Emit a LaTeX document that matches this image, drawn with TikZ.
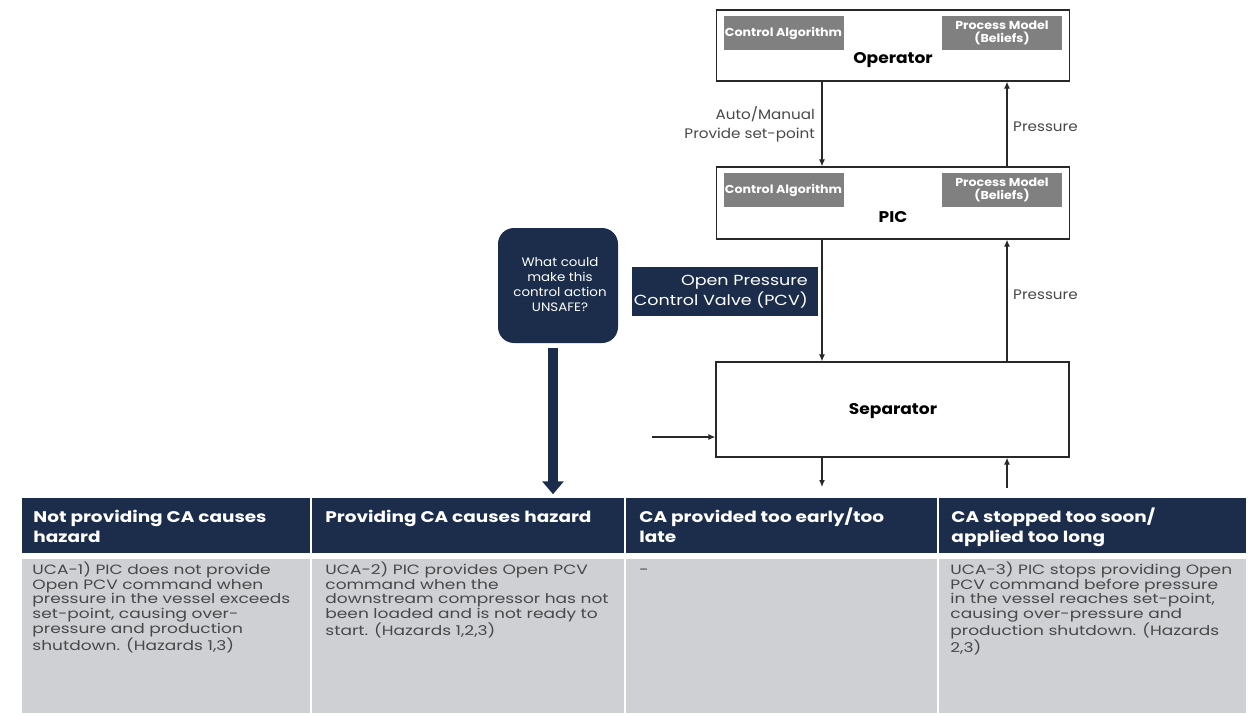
\documentclass[tikz,border=0pt]{standalone}
\usepackage{fontspec}
\setmainfont{Poppins}[FakeStretch=1.1]
\newfontfamily\widefont{Poppins}[FakeStretch=1.2]
\newfontfamily\xwidefont{Poppins}[FakeStretch=1.26]
\usetikzlibrary{arrows.meta}
\definecolor{navy}{RGB}{27,45,75}
\definecolor{cellgray}{RGB}{207,208,212}
\definecolor{boxgray}{RGB}{128,128,128}
\definecolor{txt}{RGB}{72,72,72}
\definecolor{linec}{RGB}{40,40,40}
\newcommand{\hstrut}{\rule{0pt}{16pt}}
\newcommand{\bstrut}{\rule{0pt}{14pt}}
\begin{document}
\begin{tikzpicture}[x=1pt,y=-1pt,
  block/.style={draw=linec, line width=1.3pt, fill=white, minimum width=353pt, inner sep=0pt},
  inbox/.style={fill=boxgray, text=white, font=\bfseries\fontsize{11.5}{12.5}\selectfont, align=center, inner sep=0pt, minimum width=120pt, minimum height=34pt},
  title/.style={font=\bfseries\fontsize{15.5}{18}\selectfont, text=black, inner sep=0pt},
  lbl/.style={font=\fontsize{13.8}{19}\selectfont, text=txt, inner sep=0pt},
  flow/.style={draw=linec, line width=1.2pt, -{Latex[length=7pt,width=6pt]}},
  hcell/.style={fill=navy, draw=white, line width=1.5pt, inner sep=0pt, minimum height=57pt},
  bcell/.style={fill=cellgray, draw=white, line width=1.5pt, inner sep=0pt, minimum height=156pt},
  htext/.style={text=white, font=\widefont\bfseries\fontsize{15.4}{20}\selectfont, align=left, inner sep=0pt, anchor=north west},
  btext/.style={text=txt, font=\xwidefont\fontsize{13.5}{14.7}\selectfont, align=left, inner sep=0pt, anchor=north west}
]
\useasboundingbox (0,0) rectangle (1249,714);

% ---- control structure ----
\node[block, minimum height=71pt] (op) at (893,45.5) {};
\node[inbox] (opca) at (783.5,33) {Control Algorithm};
\node[inbox] (oppm) at (1002,33) {Process Model\\(Beliefs)};
\node[title] (opt) at (893,60) {Operator};

\node[block, minimum height=72pt] (pic) at (893,203) {};
\node[inbox] (picca) at (783.5,190) {Control Algorithm};
\node[inbox] (picpm) at (1002,190) {Process Model\\(Beliefs)};
\node[title] (pict) at (893,217) {PIC};

\node[block, minimum height=95pt] (sep) at (892.5,409.5) {};
\node[title] (sept) at (893,411) {Separator};

\coordinate (cx) at (822,0);
\coordinate (fx) at (1007,0);
\coordinate (inl) at (652,437);
\coordinate (outd) at (822,487);
\coordinate (inu) at (1007,488);

\draw[flow] (op.south -| cx) -- (pic.north -| cx);
\draw[flow] (pic.north -| fx) -- (op.south -| fx);
\draw[flow] (pic.south -| cx) -- (sep.north -| cx);
\draw[flow] (sep.north -| fx) -- (pic.south -| fx);
\draw[flow] (inl) -- (inl -| sep.west);
\draw[flow] (sep.south -| outd) -- (outd);
\draw[flow] (inu) -- (sep.south -| inu);

\node[lbl, anchor=east, align=right] (cmdlbl) at (815,124) {Auto/Manual\\Provide set-point};
\node[lbl, anchor=west] (fb1) at (1013,127) {Pressure};
\node[lbl, anchor=west] (fb2) at (1013,295) {Pressure};

\node[fill=navy, minimum width=186pt, minimum height=49pt, inner sep=0pt] (pcvbox) at (725,291.5) {};
\node[text=white, font=\widefont\fontsize{14.6}{20}\selectfont, align=right, anchor=east, inner sep=0pt] (pcv) at (808,292) {Open Pressure\\Control Valve (PCV)};

\node[fill=navy, rounded corners=16pt, minimum width=120pt, minimum height=115pt, inner sep=0pt] (unsafe) at (558,285.5) {};
\node[text=white, font=\fontsize{12.2}{15}\selectfont, align=center, inner sep=0pt] (unsafet) at (560,285) {What could\\make this\\control action\\UNSAFE?};

% ---- table ----
\node[hcell, minimum width=290pt] (h1) at (166,525.5) {};
\node[hcell, minimum width=314pt] (h2) at (468,525.5) {};
\node[hcell, minimum width=313pt] (h3) at (781.5,525.5) {};
\node[hcell, minimum width=309pt] (h4) at (1092.5,525.5) {};

\node[bcell, minimum width=290pt] (b1) at (166,636) {};
\node[bcell, minimum width=314pt] (b2) at (468,636) {};
\node[bcell, minimum width=313pt] (b3) at (781.5,636) {};
\node[bcell, minimum width=309pt] (b4) at (1092.5,636) {};

\draw[draw=navy, line width=10pt, shorten <=5pt, shorten >=2pt, -{Triangle[width=21pt,length=13pt]}]
  ([xshift=-5pt]unsafe.south) -- ([xshift=-5pt]unsafe.south |- h2.north);

\node[htext] (h1t) at ([shift={(13,10)}]h1.north west) {\hstrut Not providing CA causes\\hazard};
\node[htext] (h2t) at ([shift={(15,10)}]h2.north west) {\hstrut Providing CA causes hazard};
\node[htext] (h3t) at ([shift={(15,10)}]h3.north west) {\hstrut CA provided too early/too\\late};
\node[htext] (h4t) at ([shift={(14,10)}]h4.north west) {\hstrut CA stopped too soon/\\applied too long};

\node[btext] (b1t) at ([shift={(12,3)}]b1.north west) {\bstrut UCA-1) PIC does not provide\\Open PCV command when\\pressure in the vessel exceeds\\set-point, causing over-\\pressure and production\\shutdown. (Hazards 1,3)};
\node[btext] (b2t) at ([shift={(15,3)}]b2.north west) {\bstrut UCA-2) PIC provides Open PCV\\command when the\\downstream compressor has not\\been loaded and is not ready to\\start. (Hazards 1,2,3)};
\node[btext] (b3t) at ([shift={(15,3)}]b3.north west) {\bstrut -};
\node[btext] (b4t) at ([shift={(13,3)}]b4.north west) {\bstrut UCA-3) PIC stops providing Open\\PCV command before pressure\\in the vessel reaches set-point,\\causing over-pressure and\\production shutdown. (Hazards\\2,3)};
\end{tikzpicture}
\end{document}
